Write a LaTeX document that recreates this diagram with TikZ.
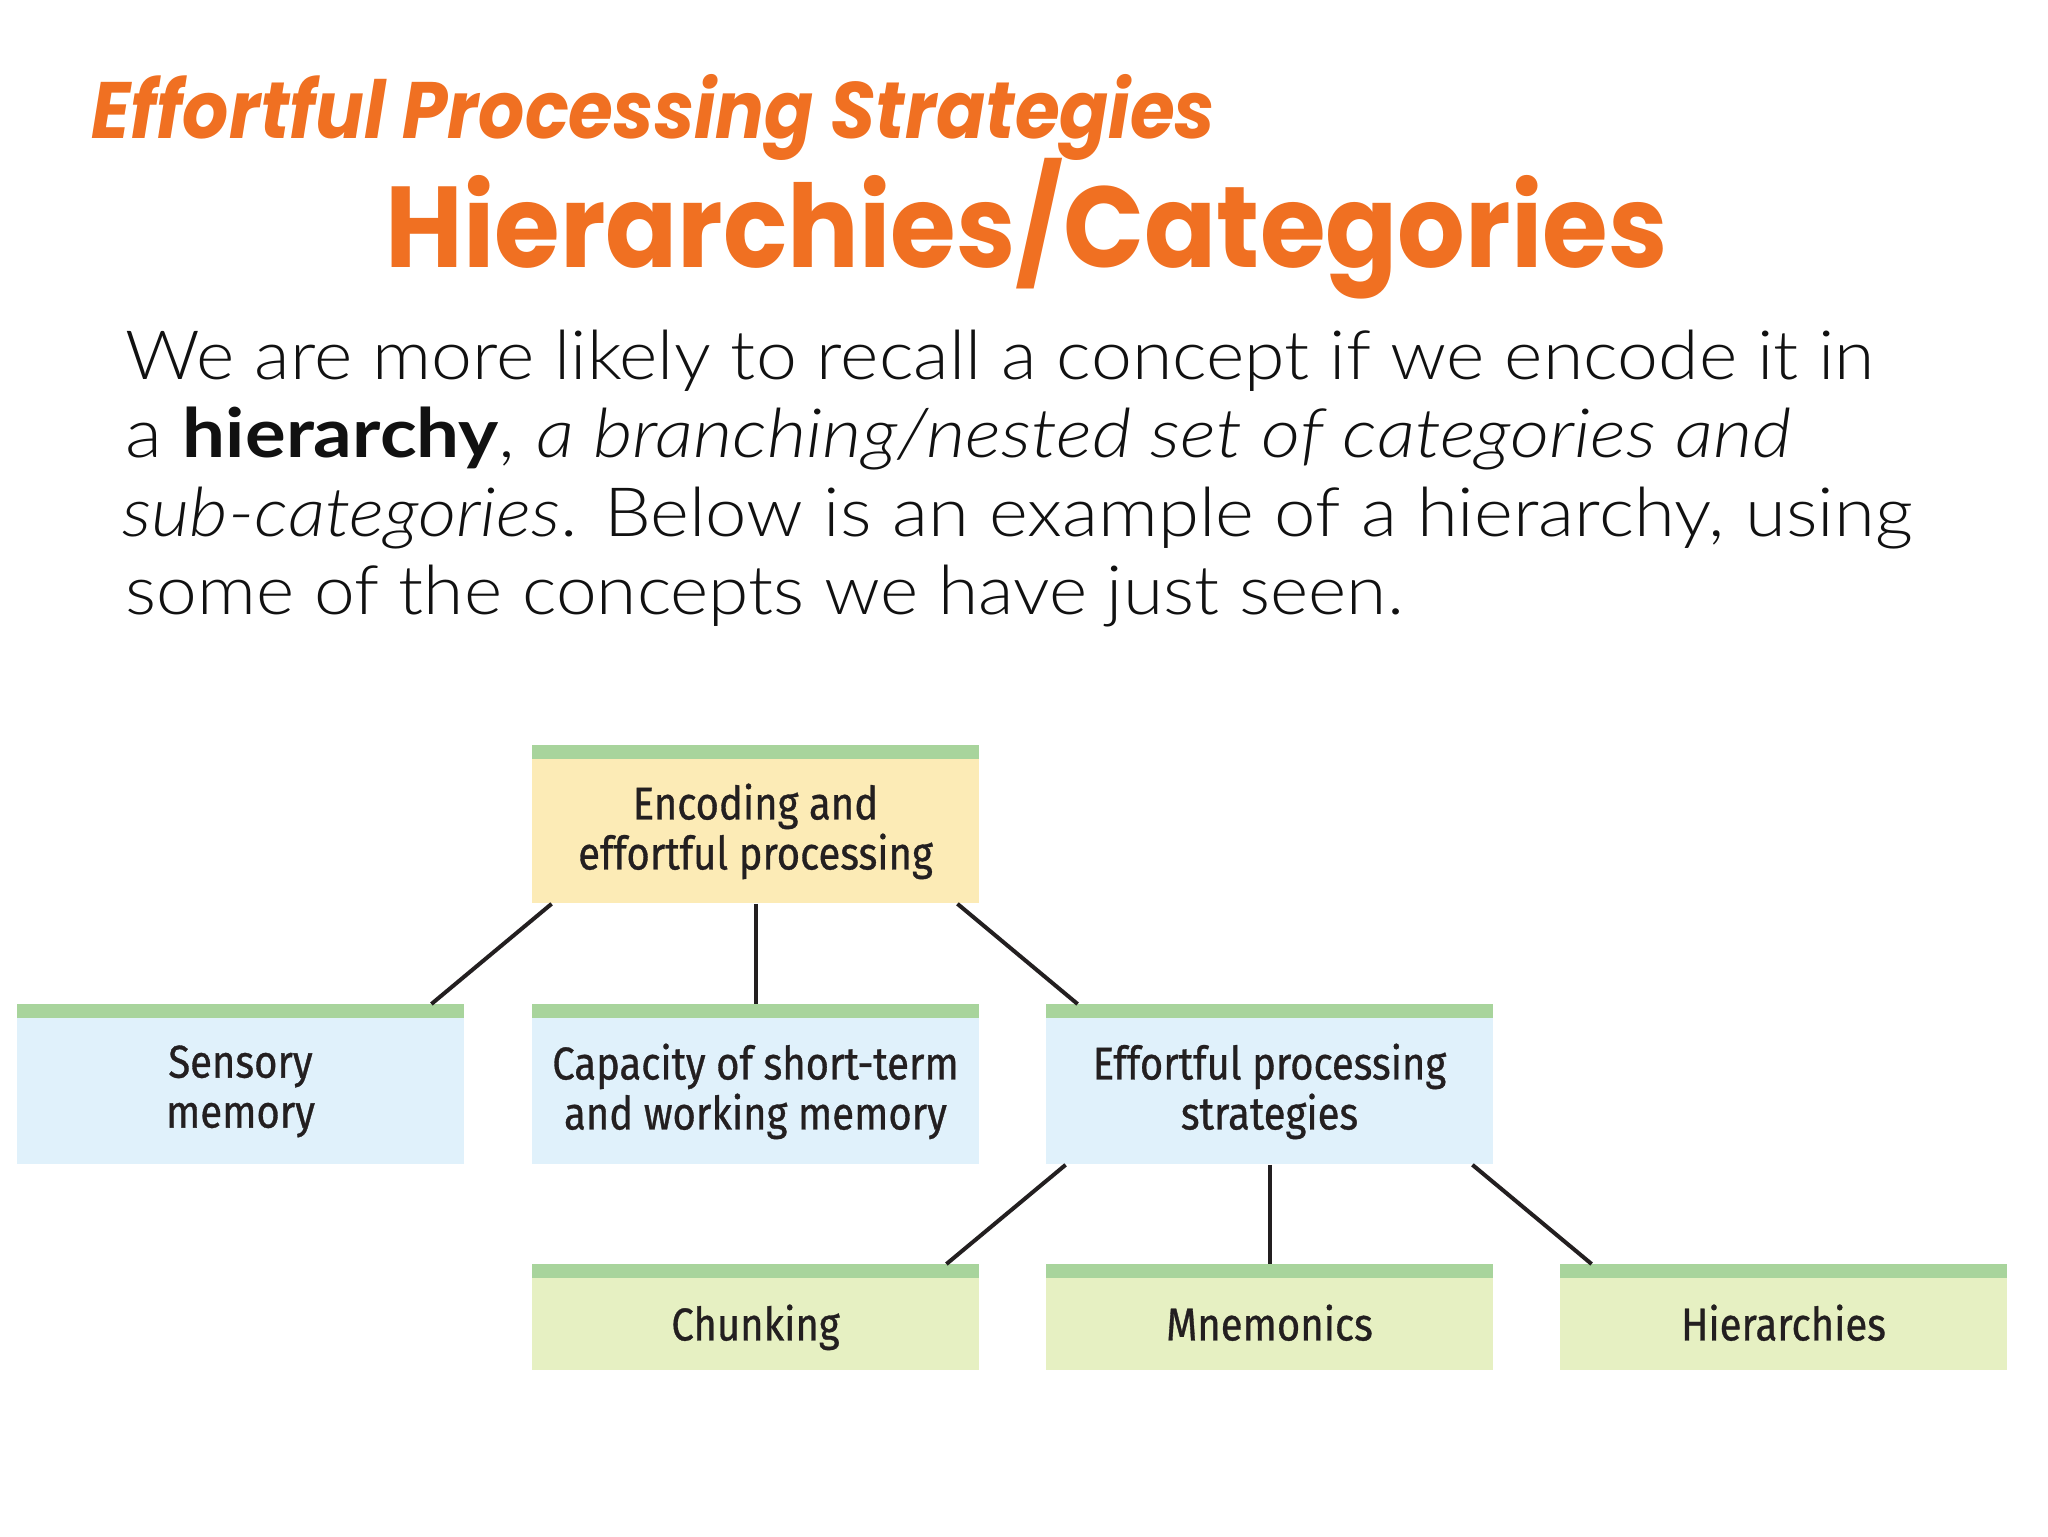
\documentclass[tikz,border=0pt]{standalone}
\usepackage{fontspec}
\usepackage{graphicx}
\setmainfont{Lato Light}[BoldFont={Lato Bold}, ItalicFont={Lato Light Italic}, BoldItalicFont={Lato Bold Italic}]
\newfontfamily\headfont{Poppins}
\newfontfamily\boxfont[FakeStretch=0.87, FakeBold=0.7]{Fira Sans}
\usetikzlibrary{calc}
\definecolor{orangeT}{HTML}{F07022}
\definecolor{barG}{HTML}{A8D49C}
\definecolor{yellowB}{HTML}{FCEBB6}
\definecolor{blueB}{HTML}{E0F1FB}
\definecolor{greenB}{HTML}{E6F0C2}
\definecolor{inkC}{HTML}{231F20}
\definecolor{bodyC}{HTML}{111111}
\newlength\fitlen
\newcommand\fitw[2]{\settowidth\fitlen{#2}\pgfmathsetmacro\fitsc{#1/\fitlen}\scalebox{\fitsc}[1]{#2}}
\tikzset{
  bodyline/.style={anchor=base west, inner sep=0pt, text=bodyC, font=\fontsize{34}{40}\selectfont},
  barbox/.style={fill=barG, minimum width=223.5pt, minimum height=7pt, inner sep=0pt, anchor=north},
  boxbody/.style={minimum width=223.5pt, inner sep=0pt, anchor=north, align=center, text=inkC,
                  font=\boxfont\fontsize{23}{25}\selectfont},
  oneline/.style={text height=20pt, text depth=4pt},
  conn/.style={draw=inkC, line width=2pt}
}
\begin{document}
\begin{tikzpicture}[x=0.5pt,y=-0.5pt]
\fill[white] (0,0) rectangle (2048,1536);
\useasboundingbox (0,0) rectangle (2048,1536);

% headings
\node[anchor=base west, inner sep=0pt, text=orangeT, font=\headfont\bfseries\itshape\fontsize{40}{48}\selectfont] (kicker) at (91,138) {\fitw{562}{Effortful Processing Strategies}};
\node[anchor=base west, inner sep=0pt, text=orangeT, font=\headfont\bfseries\fontsize{57.5}{66}\selectfont] (title) at (385,267) {\fitw{641}{Hierarchies/Categories}};

% body text
\node[bodyline] (l1) at (125,379) {\fitw{874.5}{We are more likely to recall a concept if we encode it in}};
\node[bodyline] (l2) at (125,457) {\fitw{833}{a \textbf{hierarchy}, \textit{a branching/nested set of categories and}}};
\node[bodyline] (l3) at (122,536) {\fitw{895}{\textit{sub-categories}. Below is an example of a hierarchy, using}};
\node[bodyline] (l4) at (125,614) {\fitw{639}{some of the concepts we have just seen.}};

% top box
\node[barbox] (topbar) at (755.5,745) {};
\node[boxbody, fill=yellowB, minimum height=72pt] (topbody) at (755.5,759) {Encoding and\\effortful processing};

% second row
\node[barbox] (sensbar) at (240.5,1004) {};
\node[boxbody, fill=blueB, minimum height=73pt] (sensbody) at (240.5,1018) {Sensory\\memory};
\node[barbox] (capbar) at (755.5,1004) {};
\node[boxbody, fill=blueB, minimum height=73pt] (capbody) at (755.5,1018) {Capacity of short-term\\and working memory};
\node[barbox] (effbar) at (1269.5,1004) {};
\node[boxbody, fill=blueB, minimum height=73pt] (effbody) at (1269.5,1018) {Effortful processing\\strategies};

% third row
\node[barbox] (chunkbar) at (755.5,1264) {};
\node[boxbody, oneline, fill=greenB, minimum height=46pt] (chunkbody) at (755.5,1278) {Chunking};
\node[barbox] (mnembar) at (1269.5,1264) {};
\node[boxbody, oneline, fill=greenB, minimum height=46pt] (mnembody) at (1269.5,1278) {Mnemonics};
\node[barbox] (hierbar) at (1783.5,1264) {};
\node[boxbody, oneline, fill=greenB, minimum height=46pt] (hierbody) at (1783.5,1278) {Hierarchies};

% connectors
\draw[conn] ($(topbody.south west)+(20,0)$) -- ($(sensbar.north east)+(-33,0)$);
\draw[conn] (topbody.south) -- (capbar.north);
\draw[conn] ($(topbody.south east)+(-22,0)$) -- ($(effbar.north west)+(32,0)$);
\draw[conn] ($(effbody.south west)+(20,0)$) -- ($(chunkbar.north east)+(-33,0)$);
\draw[conn] (effbody.south) -- (mnembar.north);
\draw[conn] ($(effbody.south east)+(-21,0)$) -- ($(hierbar.north west)+(32,0)$);
\end{tikzpicture}
\end{document}
